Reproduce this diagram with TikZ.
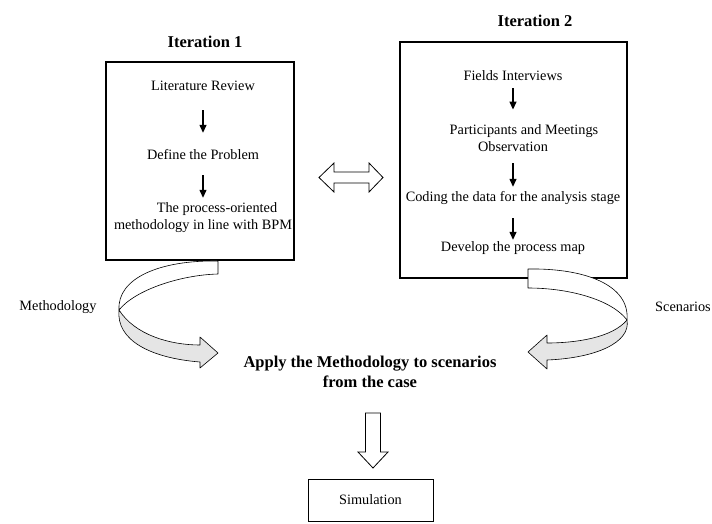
\documentclass[tikz,border=0pt]{standalone}
\usepackage{fontspec}
\setmainfont{Liberation Serif}
\usetikzlibrary{arrows.meta}
\begin{document}
\begin{tikzpicture}[x=1pt,y=-1pt,
  txt/.style={inner sep=0pt, font=\fontsize{14.3}{17}\selectfont},
  oneline/.style={txt, text height=10pt, text depth=3pt},
  multi/.style={txt, align=center},
  title/.style={inner sep=0pt, font=\fontsize{16.5}{19.5}\selectfont\bfseries, align=center},
  frame/.style={draw, line width=1.4pt, inner sep=0pt},
  flow/.style={line width=1.3pt, -{Triangle[width=7pt,length=8pt]}},
  blockarrow/.style={draw, line width=0.8pt, fill=white, line join=miter},
  ribbon/.style={draw, line width=0.6pt, line join=round},
  backface/.style={ribbon, fill=gray!20},
]
\useasboundingbox (0,0) rectangle (712,523);

% the two iteration frames
\node[frame, minimum width=188pt, minimum height=198pt] (box1) at (200,161) {};
\node[frame, minimum width=227pt, minimum height=236pt] (box2) at (513.5,160) {};

\node[title] (it1) at (205,42) {Iteration 1};
\node[title] (it2) at (535,21) {Iteration 2};

% iteration 1 steps
\node[oneline] (lit) at (203,87) {Literature Review};
\node[oneline] (def) at (203,156) {Define the Problem};
\node[multi] (proc) at (203,218) {\hspace*{28pt}The process-oriented\\methodology in line with BPM};
\draw[flow, shorten <=16.5pt, shorten >=16.5pt] (lit) -- (def);
\draw[flow, shorten <=12.5pt, shorten >=5pt] (def) -- (proc);

% iteration 2 steps
\node[oneline] (fi) at (513,77) {Fields Interviews};
\node[multi] (part) at (513,138.3) {\hspace*{22pt}Participants and Meetings\\Observation};
\node[oneline] (cod) at (513,198) {Coding the data for the analysis stage};
\node[oneline] (dev) at (513,248) {Develop the process map};
\draw[flow, shorten <=4.5pt, shorten >=15pt] (fi) -- (part);
\draw[flow, shorten <=11.3pt, shorten >=4.5pt] (part) -- (cod);
\draw[flow, shorten <=13.5pt, shorten >=1.5pt] (cod) -- (dev);

% two-way block arrow between the iterations
\path[blockarrow] (319,177.5) -- (334,163) -- (334,172) -- (369,172) -- (369,163)
  -- (383,177.5) -- (369,192) -- (369,183) -- (334,183) -- (334,192) -- cycle;

% curved ribbon arrow on the left (Methodology)
\path[ribbon, fill=white] (218,261) .. controls (160,260) and (117,278) .. (119,310)
  .. controls (135,290) and (180,275) .. (218,274) -- cycle;
\path[backface] (119,310) .. controls (135,335) and (170,345) .. (200,345)
  -- (200,337) -- (218,353) -- (200,368) -- (200,362)
  .. controls (150,358) and (116,340) .. (119,310) -- cycle;

% curved ribbon arrow on the right (Scenarios)
\path[ribbon, fill=white] (528,269) .. controls (585,268) and (630,285) .. (627,320)
  .. controls (612,300) and (570,288) .. (528,288) -- cycle;
\path[backface] (627,320) .. controls (612,338) and (575,343) .. (547,343)
  -- (547,335) -- (528,352) -- (547,369) -- (547,360)
  .. controls (597,358) and (631,342) .. (627,320) -- cycle;

\node[oneline] (meth) at (58,307) {Methodology};
\node[oneline] (scen) at (683,308) {Scenarios};

% application step and simulation
\node[title] (apply) at (370,371.6) {Apply the Methodology to scenarios\\from the case};
\path[blockarrow] (365.5,413) -- (380.5,413) -- (380.5,452) -- (388,452) -- (373,468)
  -- (358,452) -- (365.5,452) -- cycle;
\node[draw, line width=1pt, minimum width=125pt, minimum height=42pt, txt] (sim) at (370.5,500) {Simulation};
\end{tikzpicture}
\end{document}
